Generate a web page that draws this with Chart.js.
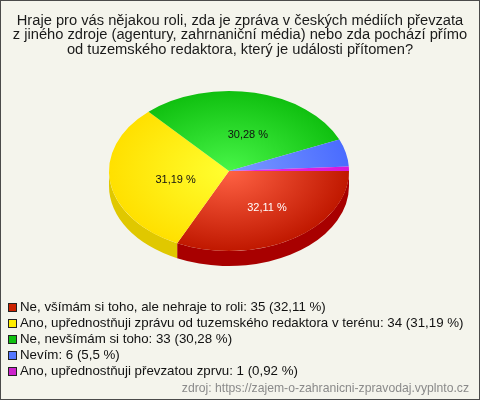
<!DOCTYPE html>
<html>
<head>
<meta charset="utf-8">
<script src="https://cdn.jsdelivr.net/npm/chart.js@4.4.1/dist/chart.umd.min.js"></script>
<style>
html,body{margin:0;padding:0;background:#f4f4ec;}
#wrap{width:480px;height:400px;position:relative;}
</style>
</head>
<body>
<div id="wrap"><canvas id="c" width="480" height="400"></canvas></div>
<script>
const titleLines = [
  'Hraje pro vás nějakou roli, zda je zpráva v českých médiích převzata',
  'z jiného zdroje (agentury, zahrnaniční média) nebo zda pochází přímo',
  'od tuzemského redaktora, který je události přítomen?'
];
const categories = [
  'Ne, všímám si toho, ale nehraje to roli',
  'Ano, upřednostňuji zprávu od tuzemského redaktora v terénu',
  'Ne, nevšímám si toho',
  'Nevím',
  'Ano, upřednostňuji převzatou zprvu'
];
const counts = [35, 34, 33, 6, 1];
const percentLabels = ['32,11', '31,19', '30,28', '5,5', '0,92'];
const sourceText = 'zdroj: https://zajem-o-zahranicni-zpravodaj.vyplnto.cz';

const innerColors = ['#ff6244', '#ffff30', '#48f648', '#7c9aff', '#e830e8'];
const outerColors = ['#c01800', '#ffe000', '#10c010', '#4a6cff', '#d818d8'];
const sideColors  = ['#a80000', '#e0c800', '#0a9a0a', '#3050d0', '#b010b0'];
const legendColors = ['#cc2200', '#ffee00', '#10c010', '#5577ff', '#cc22cc'];
const labelColors = ['#ffffff', '#111111', '#111111', '#111111', '#111111'];

const TILT = 80 / 120;
const DEPTH = 15;
const FONT = '"Liberation Sans", Arial, sans-serif';

const bgPlugin = {
  id: 'bg',
  beforeDraw(chart) {
    const ctx = chart.ctx;
    ctx.save();
    ctx.fillStyle = '#f4f4ec';
    ctx.fillRect(0, 0, chart.width, chart.height);
    ctx.strokeStyle = '#4a4a4a';
    ctx.lineWidth = 1;
    ctx.strokeRect(0.5, 0.5, chart.width - 1, chart.height - 1);
    // title
    ctx.font = '14.7px ' + FONT;
    ctx.fillStyle = '#1a1a1a';
    ctx.textAlign = 'center';
    ctx.textBaseline = 'middle';
    titleLines.forEach((t, i) => ctx.fillText(t, chart.width / 2, 20.5 + i * 14.8));
    ctx.restore();
  }
};

function visibleRanges(s, e) {
  const out = [];
  for (const base of [0, 2 * Math.PI]) {
    const a1 = Math.max(s, base), a2 = Math.min(e, base + Math.PI);
    if (a2 > a1) out.push([a1, a2]);
  }
  return out;
}

const pie3d = {
  id: 'pie3d',
  beforeDatasetsDraw(chart) {
    const meta = chart.getDatasetMeta(0);
    const ctx = chart.ctx;
    const a0 = meta.data[0];
    const cx = a0.x, cy = a0.y, R = a0.outerRadius, ry = R * TILT;
    ctx.save();
    meta.data.forEach((arc, i) => {
      visibleRanges(arc.startAngle, arc.endAngle).forEach(([a1, a2]) => {
        ctx.beginPath();
        ctx.ellipse(cx, cy, R, ry, 0, a1, a2, false);
        ctx.ellipse(cx, cy + DEPTH, R, ry, 0, a2, a1, true);
        ctx.closePath();
        ctx.fillStyle = sideColors[i];
        ctx.fill();
      });
    });
    ctx.translate(cx, cy);
    ctx.scale(1, TILT);
    ctx.translate(-cx, -cy);
  },
  afterDatasetsDraw(chart) {
    const ctx = chart.ctx;
    ctx.restore();
    const meta = chart.getDatasetMeta(0);
    ctx.save();
    ctx.font = '11px ' + FONT;
    ctx.textAlign = 'center';
    ctx.textBaseline = 'middle';
    meta.data.forEach((arc, i) => {
      if (counts[i] < 10) return;
      const mid = (arc.startAngle + arc.endAngle) / 2;
      const x = arc.x + 6 + Math.cos(mid) * arc.outerRadius * 0.5;
      const y = arc.y + 3 + Math.sin(mid) * arc.outerRadius * TILT * 0.5;
      ctx.fillStyle = labelColors[i];
      ctx.fillText(percentLabels[i] + ' %', x, y);
    });
    ctx.restore();
  }
};

const legendPlugin = {
  id: 'customLegend',
  afterDraw(chart) {
    const ctx = chart.ctx;
    ctx.save();
    ctx.font = '13.3px ' + FONT;
    ctx.textBaseline = 'middle';
    ctx.textAlign = 'left';
    categories.forEach((c, i) => {
      const y = 307 + i * 16;
      ctx.fillStyle = legendColors[i];
      ctx.fillRect(8, y - 4, 9, 9);
      ctx.strokeStyle = '#222';
      ctx.lineWidth = 1;
      ctx.strokeRect(8.5, y - 3.5, 8, 8);
      ctx.fillStyle = '#111';
      ctx.fillText(c + ': ' + counts[i] + ' (' + percentLabels[i] + ' %)', 20, y);
    });
    ctx.font = '12.2px ' + FONT;
    ctx.fillStyle = '#8a8a8a';
    ctx.textAlign = 'right';
    ctx.fillText(sourceText, 469, 389);
    ctx.restore();
  }
};

new Chart(document.getElementById('c'), {
  type: 'pie',
  data: {
    labels: categories,
    datasets: [{
      data: counts,
      clip: false,
      borderWidth: 0,
      radius: 120,
      backgroundColor(context) {
        const chart = context.chart;
        const area = chart.chartArea;
        if (!area) return innerColors[context.dataIndex];
        const cx = (area.left + area.right) / 2;
        const cy = (area.top + area.bottom) / 2;
        const g = chart.ctx.createRadialGradient(cx, cy, 0, cx, cy, 120);
        g.addColorStop(0, innerColors[context.dataIndex]);
        g.addColorStop(1, outerColors[context.dataIndex]);
        return g;
      }
    }]
  },
  options: {
    responsive: false,
    animation: false,
    events: [],
    rotation: 90,
    layout: { padding: { left: 0, right: 22, top: 60, bottom: 118 } },
    plugins: {
      legend: { display: false },
      tooltip: { enabled: false },
      title: { display: false }
    }
  },
  plugins: [bgPlugin, pie3d, legendPlugin]
});
</script>
</body>
</html>
